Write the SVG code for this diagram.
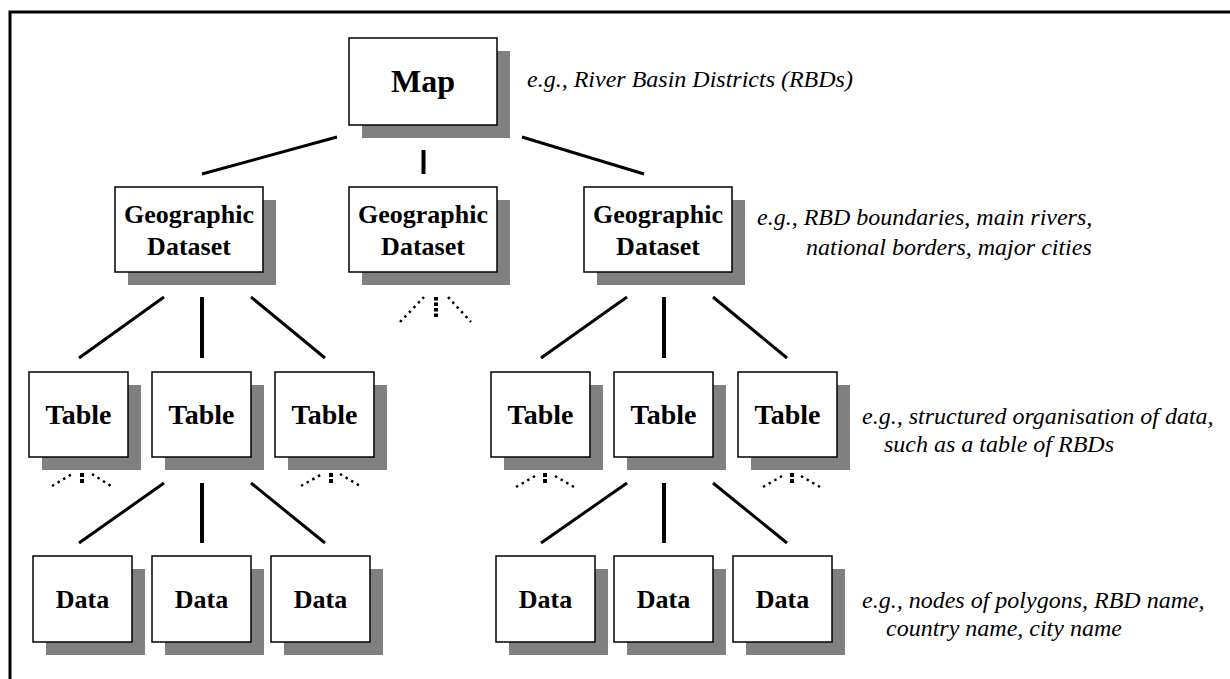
<svg xmlns="http://www.w3.org/2000/svg" width="1230" height="679" viewBox="0 0 1230 679">
<style>
.sh{fill:#808080}
.bx{fill:#fff;stroke:#000;stroke-width:1.5}
.lb{font-family:"Liberation Serif","Times New Roman",serif;font-weight:bold;fill:#000;text-anchor:middle}
.an{font-family:"Liberation Serif","Times New Roman",serif;font-style:italic;font-size:24px;fill:#000}
.c{stroke:#000;stroke-width:3;fill:none}
.v{stroke:#000;stroke-width:4;fill:none}
.dd{stroke:#000;stroke-width:2.5;fill:none;stroke-dasharray:2.5 4}
.dv{stroke:#000;stroke-width:4;fill:none;stroke-dasharray:4 2}
</style>
<rect width="1230" height="679" fill="#fff"/>
<path d="M10 679 V12 H1230" fill="none" stroke="#000" stroke-width="3"/>

<g id="map">
<rect class="sh" x="362" y="51" width="148" height="87"/>
<rect class="bx" x="349" y="38" width="148" height="87"/>
<text class="lb" x="423" y="92" font-size="32">Map</text>
</g>

<g id="geo1">
<rect class="sh" x="128" y="200" width="148" height="85"/>
<rect class="bx" x="115" y="187" width="148" height="85"/>
<text class="lb" x="189" y="223" font-size="26">Geographic</text>
<text class="lb" x="189" y="255" font-size="26">Dataset</text>
</g>
<g id="geo2">
<rect class="sh" x="362" y="200" width="148" height="85"/>
<rect class="bx" x="349" y="187" width="148" height="85"/>
<text class="lb" x="423" y="223" font-size="26">Geographic</text>
<text class="lb" x="423" y="255" font-size="26">Dataset</text>
</g>
<g id="geo3">
<rect class="sh" x="597" y="200" width="148" height="85"/>
<rect class="bx" x="584" y="187" width="148" height="85"/>
<text class="lb" x="658" y="223" font-size="26">Geographic</text>
<text class="lb" x="658" y="255" font-size="26">Dataset</text>
</g>

<g id="table1"><rect class="sh" x="42" y="385" width="99" height="85"/><rect class="bx" x="29" y="372" width="99" height="85"/><text class="lb" x="78.5" y="424" font-size="28">Table</text></g>
<g id="table2"><rect class="sh" x="165" y="385" width="99" height="85"/><rect class="bx" x="152" y="372" width="99" height="85"/><text class="lb" x="201.5" y="424" font-size="28">Table</text></g>
<g id="table3"><rect class="sh" x="288" y="385" width="99" height="85"/><rect class="bx" x="275" y="372" width="99" height="85"/><text class="lb" x="324.5" y="424" font-size="28">Table</text></g>
<g id="table4"><rect class="sh" x="504" y="385" width="99" height="85"/><rect class="bx" x="491" y="372" width="99" height="85"/><text class="lb" x="540.5" y="424" font-size="28">Table</text></g>
<g id="table5"><rect class="sh" x="627" y="385" width="99" height="85"/><rect class="bx" x="614" y="372" width="99" height="85"/><text class="lb" x="663.5" y="424" font-size="28">Table</text></g>
<g id="table6"><rect class="sh" x="751" y="385" width="99" height="85"/><rect class="bx" x="738" y="372" width="99" height="85"/><text class="lb" x="787.5" y="424" font-size="28">Table</text></g>

<g id="data1"><rect class="sh" x="46" y="569" width="99" height="86"/><rect class="bx" x="33" y="556" width="99" height="86"/><text class="lb" x="82.5" y="608" font-size="26">Data</text></g>
<g id="data2"><rect class="sh" x="165" y="569" width="99" height="86"/><rect class="bx" x="152" y="556" width="99" height="86"/><text class="lb" x="201.5" y="608" font-size="26">Data</text></g>
<g id="data3"><rect class="sh" x="284" y="569" width="99" height="86"/><rect class="bx" x="271" y="556" width="99" height="86"/><text class="lb" x="320.5" y="608" font-size="26">Data</text></g>
<g id="data4"><rect class="sh" x="509" y="569" width="99" height="86"/><rect class="bx" x="496" y="556" width="99" height="86"/><text class="lb" x="545.5" y="608" font-size="26">Data</text></g>
<g id="data5"><rect class="sh" x="627" y="569" width="99" height="86"/><rect class="bx" x="614" y="556" width="99" height="86"/><text class="lb" x="663.5" y="608" font-size="26">Data</text></g>
<g id="data6"><rect class="sh" x="746" y="569" width="99" height="86"/><rect class="bx" x="733" y="556" width="99" height="86"/><text class="lb" x="782.5" y="608" font-size="26">Data</text></g>

<g id="connectors">
<line class="c" x1="337" y1="137" x2="202" y2="174"/>
<line class="v" x1="423.5" y1="150" x2="423.5" y2="174"/>
<line class="c" x1="522" y1="137" x2="644" y2="174"/>

<line class="c" x1="164" y1="297" x2="79" y2="358"/>
<line class="v" x1="202" y1="297" x2="202" y2="358"/>
<line class="c" x1="251" y1="297" x2="325" y2="358"/>

<line class="c" x1="627" y1="297" x2="541" y2="358"/>
<line class="v" x1="664" y1="297" x2="664" y2="358"/>
<line class="c" x1="713" y1="297" x2="787" y2="358"/>

<line class="c" x1="164" y1="483" x2="79" y2="543"/>
<line class="v" x1="202" y1="483" x2="202" y2="543"/>
<line class="c" x1="251" y1="483" x2="325" y2="543"/>

<line class="c" x1="627" y1="483" x2="541" y2="543"/>
<line class="v" x1="664" y1="483" x2="664" y2="543"/>
<line class="c" x1="713" y1="483" x2="787" y2="543"/>

<line class="dd" x1="400" y1="322" x2="424" y2="297"/>
<line class="dv" x1="436" y1="297" x2="436" y2="319" style="stroke-dasharray:3.5 2"/>
<line class="dd" x1="448" y1="297" x2="471" y2="322"/>

<line class="dd" x1="52" y1="486" x2="72" y2="474"/>
<line class="dv" x1="82" y1="473" x2="82" y2="484"/>
<line class="dd" x1="92" y1="474" x2="111" y2="486"/>

<line class="dd" x1="301" y1="486" x2="322" y2="474"/>
<line class="dv" x1="331" y1="473" x2="331" y2="484"/>
<line class="dd" x1="340" y1="474" x2="360" y2="486"/>

<line class="dd" x1="516" y1="487" x2="535" y2="476"/>
<line class="dv" x1="545" y1="473" x2="545" y2="484"/>
<line class="dd" x1="555" y1="476" x2="574" y2="487"/>

<line class="dd" x1="763" y1="487" x2="782" y2="476"/>
<line class="dv" x1="792" y1="473" x2="792" y2="484"/>
<line class="dd" x1="801" y1="476" x2="820" y2="487"/>
</g>

<text class="an" x="527" y="87">e.g., River Basin Districts (RBDs)</text>
<text class="an" x="757" y="225">e.g., RBD boundaries, main rivers,</text>
<text class="an" x="806" y="255">national borders, major cities</text>
<text class="an" x="862" y="424">e.g., structured organisation of data,</text>
<text class="an" x="884" y="452">such as a table of RBDs</text>
<text class="an" x="862" y="608">e.g., nodes of polygons, RBD name,</text>
<text class="an" x="886" y="636">country name, city name</text>
</svg>
